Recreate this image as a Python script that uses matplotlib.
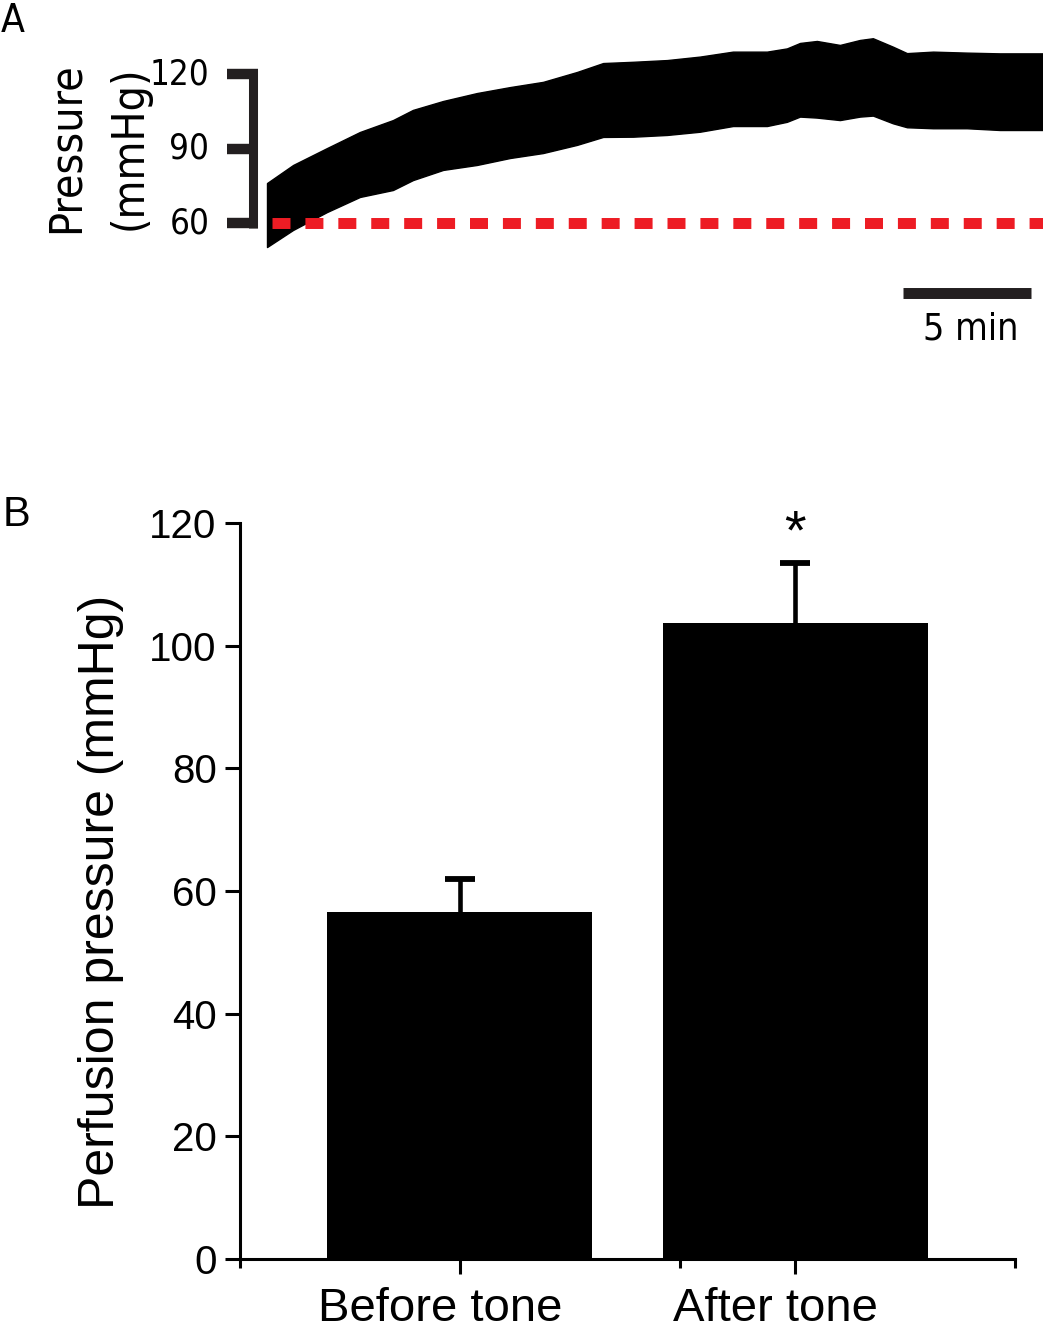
import matplotlib
matplotlib.use("Agg")
import matplotlib.pyplot as plt
from matplotlib.transforms import ScaledTranslation

# ---- datos panel A: envolvente del trazo de presion ----
trace_min = [0.0, 1.02, 2.34, 3.63, 4.92, 5.70, 6.88, 8.20, 9.49, 10.78, 12.11, 13.13,
             14.30, 15.63, 16.91, 18.20, 19.53, 20.31, 20.82, 21.48, 22.38, 23.16,
             23.67, 24.45, 25.00, 26.02, 27.34, 28.63, 30.31]
trace_upper = [76.1, 83.4, 90.2, 96.7, 101.5, 105.6, 109.2, 112.4, 114.8, 116.9, 120.9, 124.5,
               125.0, 125.7, 127.1, 129.1, 129.1, 130.4, 132.6, 133.4, 131.8, 133.8,
               134.5, 131.1, 128.5, 129.1, 128.7, 128.4, 128.4]
trace_lower = [50.3, 57.2, 64.4, 70.5, 73.3, 77.3, 81.4, 83.4, 86.2, 88.2, 91.5, 94.7,
               94.8, 95.5, 96.8, 99.1, 99.1, 100.8, 102.9, 102.5, 101.5, 102.9,
               103.3, 100.2, 98.6, 98.2, 98.2, 97.5, 97.5]
baseline = 60
scale_ticks = [120, 90, 60]
scale_bar_min = 5

# ---- datos panel B ----
groups = ["Before tone", "After tone"]
means = [56.5, 103.7]
sems = [5.4, 9.8]

narrow = dict(family="DejaVu Sans", stretch="condensed")
arial = ["Liberation Sans", "DejaVu Sans"]
ink = "#231f20"

W, H = 1043, 1332
fig = plt.figure(figsize=(W / 100, H / 100), dpi=100)

# ---------------- Panel A ----------------
axA = fig.add_axes([0, 1 - 400 / H, 1, 400 / H])
axA.set_xlim(-267 / 25.6, 776 / 25.6)
axA.set_ylim(60 - 177 / 2.48, 60 + 223 / 2.48)
axA.axis("off")

axA.fill_between(trace_min, trace_lower, trace_upper, color="black", lw=1.0, zorder=2)
axA.plot([0.2, trace_min[-1]], [baseline, baseline], color="#ed1c24", lw=7.9,
         dashes=(1.64, 1.36), solid_capstyle="butt", dash_capstyle="butt", zorder=3)

# escala vertical (corchete)
bx = -0.55
axA.plot([bx, bx], [scale_ticks[-1] - 2, scale_ticks[0] + 2], color=ink, lw=6.5,
         solid_capstyle="butt")
for v in scale_ticks:
    axA.plot([bx - 1.0, bx + 0.18], [v, v], color=ink, lw=7.5, solid_capstyle="butt")
    axA.text(-2.25, v, f"{v}", ha="right", va="center", fontsize=25, **narrow)
axA.text(-7.85, 90.5, "Pressure", rotation=90, ha="center", va="center",
         fontsize=32, **narrow)
axA.text(-5.4, 90.5, "(mmHg)", rotation=90, ha="center", va="center",
         fontsize=32, **narrow)

# escala horizontal (5 min)
sx0 = 24.84
axA.plot([sx0, sx0 + scale_bar_min], [31.6, 31.6], color=ink, lw=7.9,
         solid_capstyle="butt")
axA.text(sx0 + scale_bar_min / 2 + 0.15, 17.0, f"{scale_bar_min} min", ha="center",
         va="center", fontsize=27, **narrow)

fig.text(1 / W, 1 - 2 / H, "A", ha="left", va="top", fontsize=28, **narrow)

# ---------------- Panel B ----------------
axB = fig.add_axes([240 / W, (H - 1259) / H, 775 / W, 736 / H])
x = list(range(len(groups)))
axB.bar(x, means, width=0.79, color="black", zorder=2)
_, caps, _ = axB.errorbar(x, means, yerr=[[0] * len(sems), sems], fmt="none",
                          ecolor="black", elinewidth=3.3, capsize=11, capthick=4.2,
                          zorder=1)
for c in caps:
    if list(c.get_ydata()) == means:
        c.set_visible(False)
axB.text(x[1], means[1] + sems[1] + 4.6, "*", ha="center", va="center",
         fontsize=40, family=arial)

axB.set_xlim(-0.655, 1.655)
axB.set_ylim(0, 120)
axB.set_yticks(range(0, 121, 20))
axB.set_xticks(x)
axB.set_xticklabels(groups)
axB.set_xticks([-0.655, 0.655, 1.655], minor=True)

for s in ["top", "right"]:
    axB.spines[s].set_visible(False)
for s in ["left", "bottom"]:
    axB.spines[s].set_linewidth(2.2)

axB.tick_params(axis="y", length=10.8, width=2.2, pad=6, labelsize=29)
axB.tick_params(axis="x", which="major", length=11, width=2.2, pad=9, labelsize=34)
axB.tick_params(axis="x", which="minor", length=6.5, width=2.2)
for lab in axB.get_yticklabels() + axB.get_xticklabels():
    lab.set_family(arial)
for lab in axB.get_xticklabels():
    lab.set_transform(lab.get_transform() + ScaledTranslation(-0.2, 0, fig.dpi_scale_trans))

fig.text(101 / W, 1 - 902 / H, "Perfusion pressure (mmHg)", rotation=90,
         ha="center", va="center", fontsize=36, family=arial)
fig.text(3 / W, 1 - 495 / H, "B", ha="left", va="top", fontsize=30, family=arial)

fig.savefig("out.png", dpi=100)
